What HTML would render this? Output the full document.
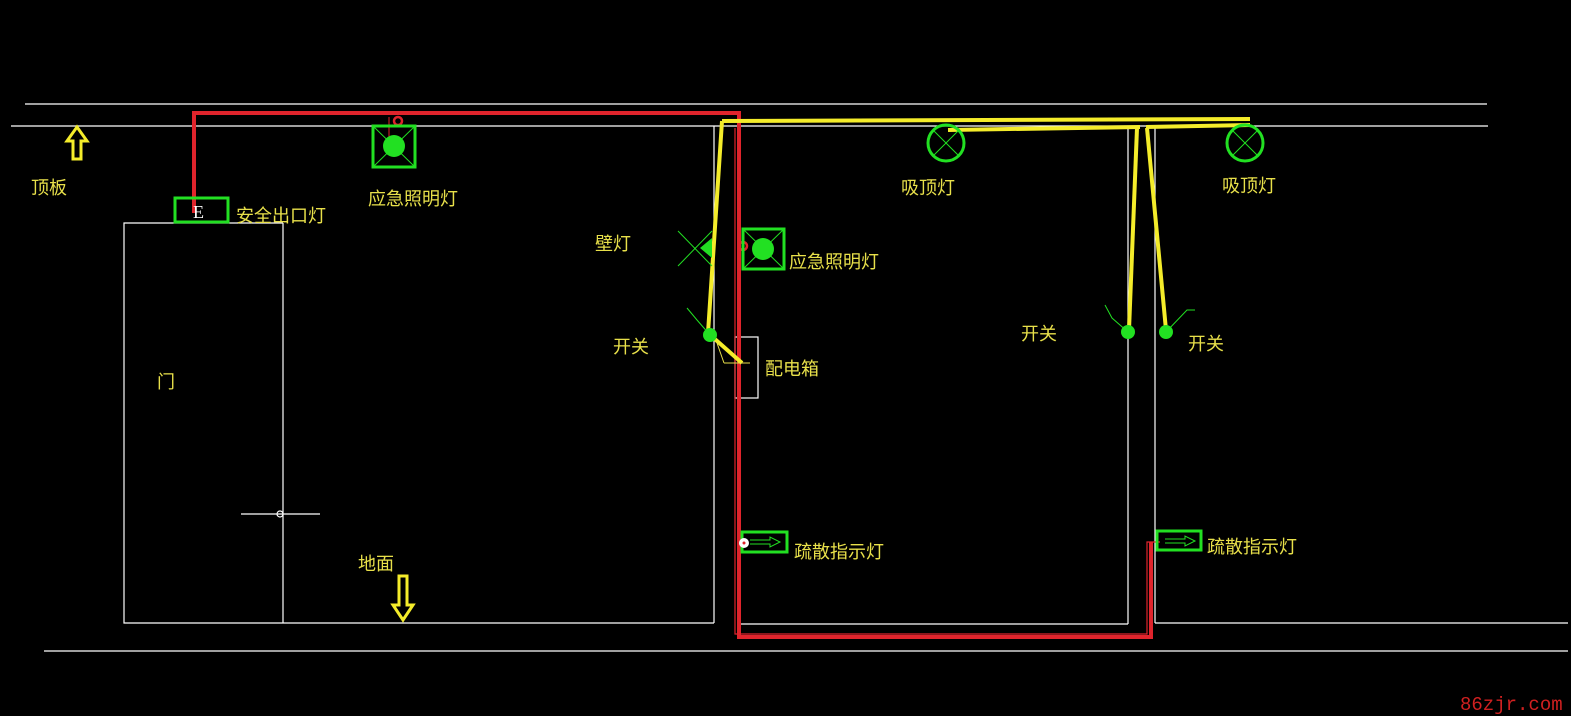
<!DOCTYPE html>
<html><head><meta charset="utf-8"><style>
html,body{margin:0;padding:0;background:#000;}
svg{display:block}
text{font-family:"Liberation Sans","Noto Sans CJK SC",sans-serif;font-size:18px;fill:#e8e04a}
</style></head><body>
<svg width="1571" height="716" viewBox="0 0 1571 716" xmlns="http://www.w3.org/2000/svg">
<rect width="1571" height="716" fill="#000"/>
<g stroke="#fff" stroke-width="1.2" fill="none">
<line x1="25" y1="104" x2="1487" y2="104"/>
<line x1="11" y1="126" x2="1488" y2="126"/>
<line x1="44" y1="651" x2="1568" y2="651"/>
<polyline points="283,223 124,223 124,623 714,623"/>
<line x1="283" y1="223" x2="283" y2="623"/>
<line x1="241" y1="514" x2="320" y2="514"/>
<circle cx="280" cy="514" r="3"/>
<line x1="714" y1="126" x2="714" y2="623"/>
<line x1="740" y1="624" x2="1128" y2="624"/>
<line x1="1128" y1="126" x2="1128" y2="624"/>
<line x1="1155" y1="126" x2="1155" y2="623"/>
<line x1="1155" y1="623" x2="1568" y2="623"/>
<rect x="735" y="337" width="23" height="61"/>
</g>
<g stroke="#e0242c" fill="none">
<polyline points="194,213 194,113 739,113 739,637 1151,637 1151,542" stroke-width="4"/>
<polyline points="735,128 735,634 1147,634 1147,542 1160,542" stroke-width="1.2"/>
<line x1="389" y1="117" x2="389" y2="150" stroke-width="1"/>
<circle cx="398" cy="121" r="4" stroke-width="2.5"/>
<circle cx="743" cy="246" r="4" stroke-width="2.5"/>
</g>
<g stroke="#f4ec2a" stroke-width="4" fill="none" stroke-linejoin="round">
<polyline points="722,121 1250,119"/>
<polyline points="722,121 708,333 742,363"/>
<polyline points="948,130 1140,127"/>
<polyline points="1146,127 1250,125"/>
<line x1="1137" y1="128" x2="1129" y2="330"/>
<line x1="1147" y1="128" x2="1166" y2="330"/>
</g>
<line x1="717" y1="343" x2="724" y2="363" stroke="#e8e04a" stroke-width="1"/>
<line x1="724" y1="363" x2="750" y2="363" stroke="#e8e04a" stroke-width="1"/>
<g stroke="#22e022" fill="none">
<rect x="373" y="126" width="42" height="41" stroke-width="3"/>
<line x1="373" y1="126" x2="415" y2="167" stroke-width="1"/>
<line x1="415" y1="126" x2="373" y2="167" stroke-width="1"/>
<rect x="743" y="229" width="41" height="40" stroke-width="3"/>
<line x1="743" y1="229" x2="784" y2="269" stroke-width="1"/>
<line x1="784" y1="229" x2="743" y2="269" stroke-width="1"/>
<rect x="175" y="198" width="53" height="24" stroke-width="3"/>
<circle cx="946" cy="143" r="18" stroke-width="3"/>
<line x1="934" y1="131" x2="958" y2="155" stroke-width="1"/>
<line x1="958" y1="131" x2="934" y2="155" stroke-width="1"/>
<circle cx="1245" cy="143" r="18" stroke-width="3"/>
<line x1="1233" y1="131" x2="1257" y2="155" stroke-width="1"/>
<line x1="1257" y1="131" x2="1233" y2="155" stroke-width="1"/>
<line x1="678" y1="231" x2="712" y2="266" stroke-width="1"/>
<line x1="678" y1="266" x2="712" y2="231" stroke-width="1"/>
<polyline points="687,308 697,320 710,335" stroke-width="1"/>
<polyline points="1105,305 1112,318 1128,332" stroke-width="1"/>
<polyline points="1195,310 1187,310 1166,332" stroke-width="1"/>
<rect x="742" y="532" width="45" height="20" stroke-width="3"/>
<polyline points="750,540 770,540 770,537 780,542 770,547 770,544 750,544" stroke-width="1"/>
<rect x="1157" y="531" width="44" height="19" stroke-width="3"/>
<polyline points="1165,539 1185,539 1185,536 1195,541 1185,546 1185,543 1165,543" stroke-width="1"/>
</g>
<g fill="#22e022">
<circle cx="394" cy="146" r="11"/>
<circle cx="763" cy="249" r="11"/>
<polygon points="700,248 712,238 712,258"/>
<circle cx="710" cy="335" r="7"/>
<circle cx="1128" cy="332" r="7"/>
<circle cx="1166" cy="332" r="7"/>
</g>
<circle cx="744" cy="543" r="5" fill="#fff"/>
<circle cx="744" cy="543" r="1.5" fill="#e0242c"/>
<text x="193" y="218" style="fill:#fff;font-family:'Liberation Serif',serif;font-size:18px">E</text>
<g stroke="#f4ec2a" stroke-width="3" fill="none" stroke-linejoin="miter">
<polygon points="77,127 87,141 81,141 81,159 73,159 73,141 67,141"/>
<polygon points="403,620 413,605 407,605 407,576 399,576 399,605 393,605"/>
</g>
<text x="31" y="194">顶板</text>
<text x="236" y="222">安全出口灯</text>
<text x="368" y="205">应急照明灯</text>
<text x="595" y="250">壁灯</text>
<text x="789" y="268">应急照明灯</text>
<text x="613" y="353">开关</text>
<text x="765" y="375">配电箱</text>
<text x="157" y="388">门</text>
<text x="358" y="570">地面</text>
<text x="901" y="194">吸顶灯</text>
<text x="1222" y="192">吸顶灯</text>
<text x="1021" y="340">开关</text>
<text x="1188" y="350">开关</text>
<text x="794" y="558">疏散指示灯</text>
<text x="1207" y="553">疏散指示灯</text>
<text x="1460" y="710" style="fill:#d02020;font-family:'Liberation Mono',monospace;font-size:19px">86zjr.com</text>
</svg>
</body></html>
